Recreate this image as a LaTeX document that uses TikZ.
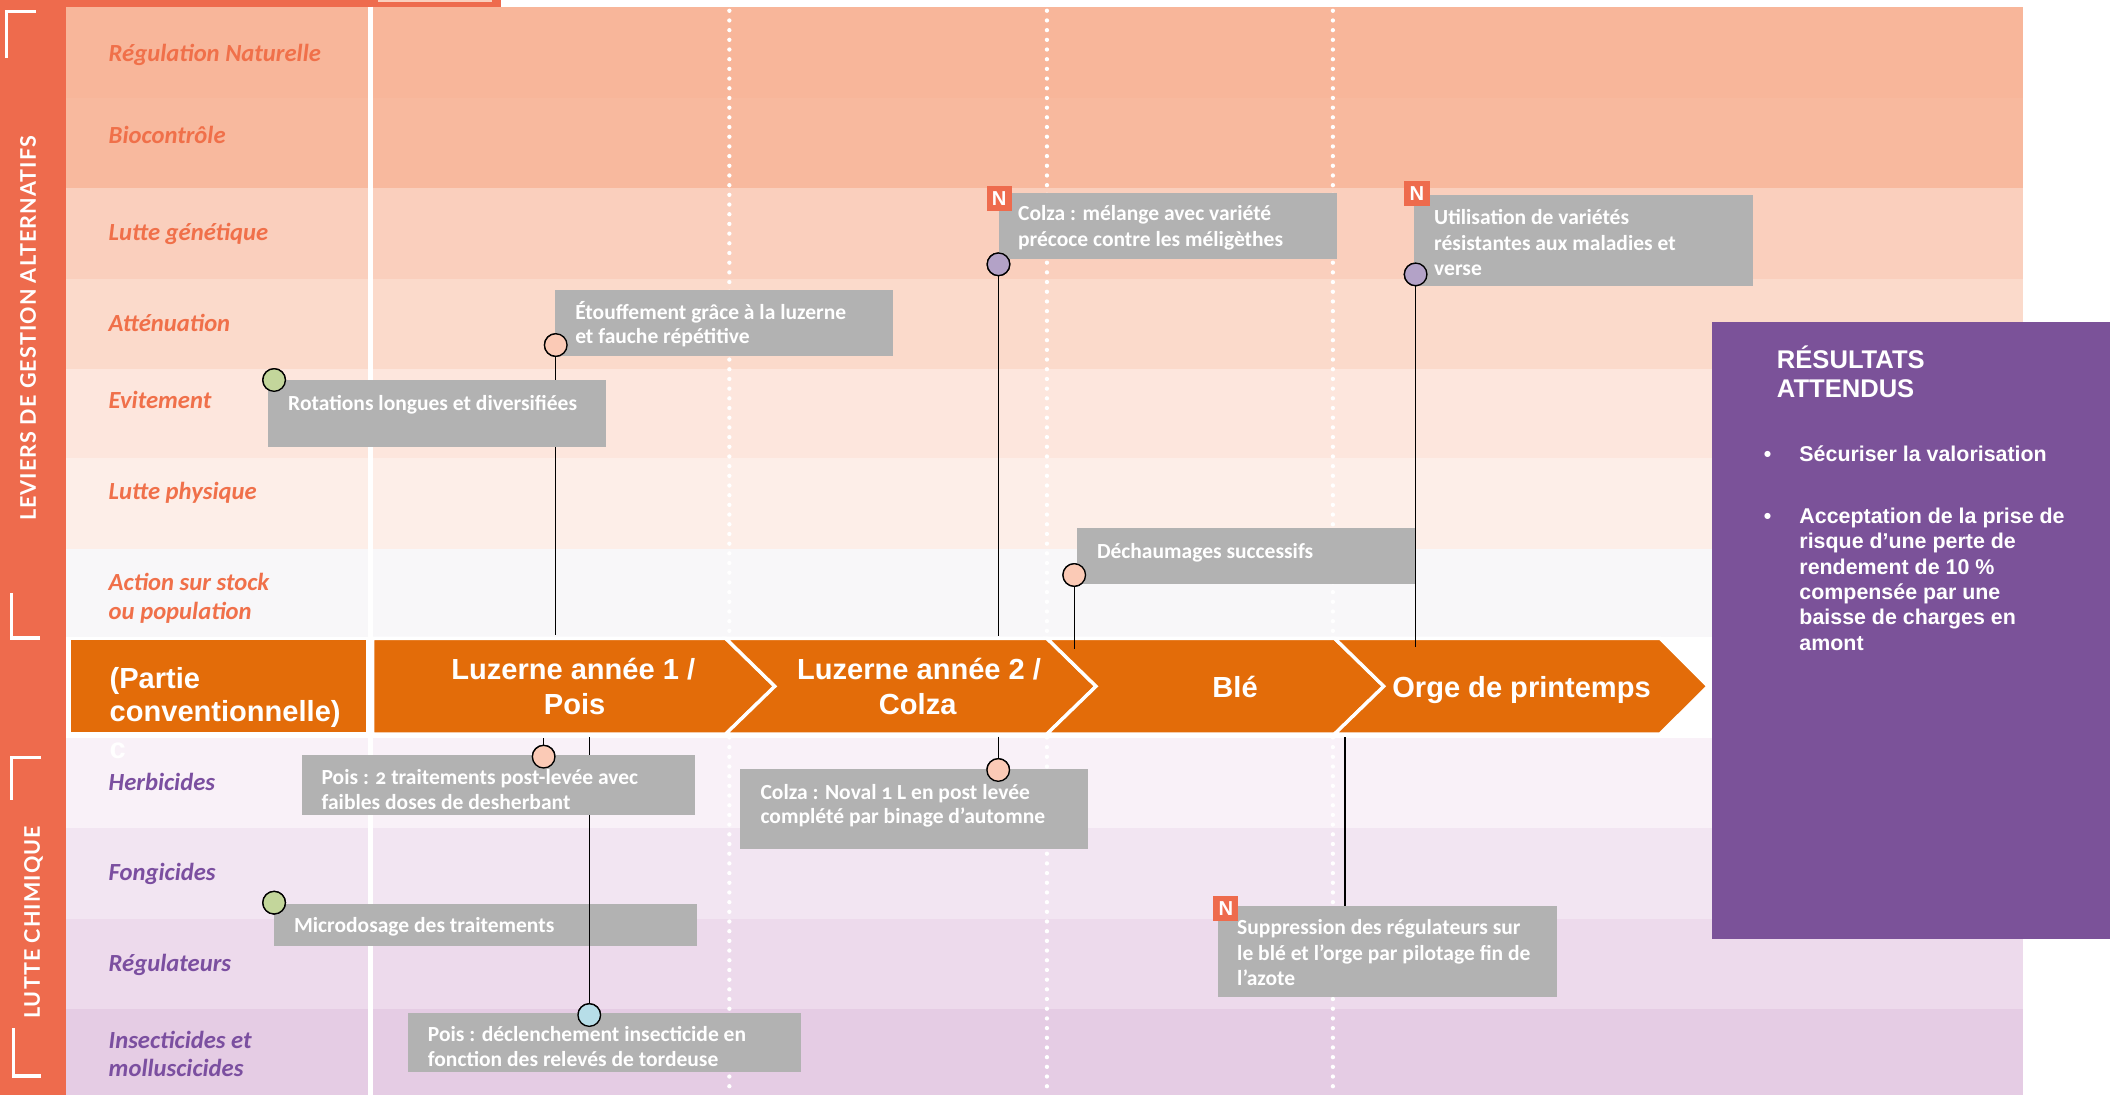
\documentclass[tikz,border=0pt]{standalone}
\usepackage{fontspec}
\usepackage{graphicx}
\setmainfont{Carlito}
\newfontfamily\callf[Numbers=OldStyle]{Carlito}
\newfontfamily\arialf{Liberation Sans}
\newfontfamily\sidef[LetterSpace=5]{Lato}
\definecolor{sideor}{HTML}{EE6B4D}
\definecolor{chev}{HTML}{E36C09}
\definecolor{laborange}{HTML}{F0704A}
\definecolor{labpurple}{HTML}{7B4FA0}
\definecolor{boxgrey}{HTML}{B2B2B2}
\definecolor{purplebox}{HTML}{7B5299}
\definecolor{dgreen}{HTML}{C3D69B}
\definecolor{dsalmon}{HTML}{FBCAB6}
\definecolor{dpurple}{HTML}{B3A2C7}
\definecolor{dblue}{HTML}{B7DEE8}
\definecolor{rA}{HTML}{F8B69A}
\definecolor{rB}{HTML}{F8B99E}
\definecolor{rC}{HTML}{FACFBD}
\definecolor{rD}{HTML}{FBDACB}
\definecolor{rE}{HTML}{FDE6DD}
\definecolor{rF}{HTML}{FDEEE8}
\definecolor{rG}{HTML}{F8F7F9}
\definecolor{rH}{HTML}{F9F1F8}
\definecolor{rI}{HTML}{F2E5F2}
\definecolor{rJ}{HTML}{EDDAEC}
\definecolor{rK}{HTML}{E5CCE4}
\begin{document}
\begin{tikzpicture}[x=1pt,y=-1pt,
  rowlab/.style={anchor=base west, inner sep=0pt, font=\fontsize{18.3}{22}\selectfont\bfseries\itshape, text=laborange},
  rowlabp/.style={rowlab, text=labpurple},
  ctext/.style={anchor=base west, inner sep=0pt, font=\callf\bfseries\fontsize{16}{19}\selectfont, text=white},
  cbox/.style={fill=boxgrey, draw=none, anchor=north west, inner sep=0pt},
  pin/.style={circle, draw=black, line width=1pt, minimum size=16.8pt, inner sep=0pt},
  nbadge/.style={fill=sideor, minimum width=18.6pt, minimum height=18.4pt, inner sep=0pt, text=white, font=\arialf\bfseries\fontsize{15}{15}\selectfont},
  chevron/.style={fill=chev, draw=white, line width=2.5pt, line join=miter},
  chtext/.style={text=white, font=\arialf\bfseries\fontsize{21.6}{25}\selectfont, inner sep=0pt, anchor=base},
  conn/.style={draw=black, line width=0.8pt},
  dotsep/.style={draw=white, line width=3.2pt, line cap=round, dash pattern=on 0pt off 7.2pt},
  restext/.style={anchor=base west, inner sep=0pt, text=white, font=\arialf\bfseries\fontsize{15.9}{19}\selectfont},
  sidetext/.style={rotate=90, inner sep=0pt, text=white, font=\sidef\bfseries\fontsize{16}{16}\selectfont},
  bracket/.style={draw=white, line width=2.3pt},
]
\useasboundingbox (0,0) rectangle (1568,814);
\fill[white] (0,0) rectangle (1568,814);
% bands
\fill[rA] (49,5) rectangle (1503,72.6);
\fill[rB] (49,72.6) rectangle (1503,139.5);
\fill[rC] (49,139.5) rectangle (1503,207);
\fill[rD] (49,207) rectangle (1503,274);
\fill[rE] (49,274) rectangle (1503,340);
\fill[rF] (49,340) rectangle (1503,407.7);
\fill[rG] (49,407.7) rectangle (1503,473);
\fill[rH] (49,548.5) rectangle (1503,615);
\fill[rI] (49,615) rectangle (1503,683);
\fill[rJ] (49,683) rectangle (1503,750);
\fill[rK] (49,750) rectangle (1503,814);
% top strip
\fill[sideor] (0,0) rectangle (372.3,5);
\fill[rC] (281,0) rectangle (365.6,1.3);
% separators
\draw[white, line width=3.6pt] (275.2,5) -- (275.2,814);
\draw[dotsep] (542,8) -- (542,812);
\draw[dotsep] (778,8) -- (778,812);
\draw[dotsep] (990.5,8) -- (990.5,812);
% arrow row
\fill[white] (49,473) rectangle (1503,548.5);
\draw[chevron] (51.5,474.4) rectangle (273,545.4);
\draw[chevron] (277,474.4) -- (539.3,474.4) -- (575.8,510) -- (539.3,545.4) -- (277,545.4) -- cycle;
\draw[chevron] (539.3,474.4) -- (778,474.4) -- (814.5,510) -- (778,545.4) -- (539.3,545.4) -- (575.8,510) -- cycle;
\draw[chevron] (778,474.4) -- (991.8,474.4) -- (1028.3,510) -- (991.8,545.4) -- (778,545.4) -- (814.5,510) -- cycle;
\draw[chevron] (991.8,474.4) -- (1233.6,474.4) -- (1269.3,510) -- (1233.6,545.4) -- (991.8,545.4) -- (1028.3,510) -- cycle;
\node[chtext, anchor=base west] (cv1a) at (81.3,511.5) {(Partie};
\node[chtext, anchor=base west] (cv1b) at (81.3,536.3) {conventionnelle)};
\node[chtext, anchor=base west] (cv1c) at (81.3,563.5) {c};
\node[chtext] (cv2a) at (426,505.3) {Luzerne année 1 /};
\node[chtext] (cv2b) at (427,530.8) {Pois};
\node[chtext] (cv3a) at (683,504.8) {Luzerne année 2 /};
\node[chtext] (cv3b) at (682,530.8) {Colza};
\node[chtext] (cv4) at (917.8,518.2) {Blé};
\node[chtext] (cv5) at (1130.7,518) {Orge de printemps};
% anchor points on the arrow row
\coordinate (aEto) at (413,472);
\coordinate (aColM) at (742,472.6);
\coordinate (aUti) at (1052,481);
\coordinate (aDec) at (798.3,482.5);
\coordinate (aPoisH) at (404,548.5);
\coordinate (aPoisI) at (437.9,548);
\coordinate (aNoval) at (741.8,547.4);
\coordinate (aSupp) at (999.5,548);
% box below the insecticide connector
\node[cbox, minimum width=313.8pt, minimum height=31.4pt] (bMicro) at (203.7,671.3) {};
% pins
\node[pin, fill=dgreen] (dRot) at (203.7,282.4) {};
\node[pin, fill=dsalmon] (dEto) at (413,256.4) {};
\node[pin, fill=dpurple] (dColM) at (742,196.4) {};
\node[pin, fill=dpurple] (dUti) at (1052,203.9) {};
\node[pin, fill=dsalmon] (dDec) at (798.3,427.3) {};
\node[pin, fill=dsalmon] (dPoisH) at (404,562.3) {};
\node[pin, fill=dsalmon] (dNoval) at (741.8,572.2) {};
\node[pin, fill=dgreen] (dMicro) at (203.7,670.8) {};
\node[pin, fill=dblue] (dPoisI) at (437.9,754.3) {};
% connectors
\draw[conn] (dEto) -- (aEto);
\draw[conn] (dColM) -- (aColM);
\draw[conn] (dUti) -- (aUti);
\draw[conn] (dDec) -- (aDec);
\draw[conn] (aPoisH) -- (dPoisH);
\draw[conn] (aPoisI) -- (dPoisI);
\draw[conn] (aNoval) -- (dNoval);
% other boxes
\node[cbox, minimum width=251pt, minimum height=49.6pt] (bRot) at (199,282.4) {};
\node[cbox, minimum width=250.8pt, minimum height=49pt] (bEto) at (412.4,215) {};
\node[cbox, minimum width=251pt, minimum height=49pt] (bColM) at (742,143) {};
\node[cbox, minimum width=251.8pt, minimum height=67.4pt] (bUti) at (1050.6,145) {};
\node[cbox, minimum width=251.2pt, minimum height=41.3pt] (bDec) at (800.3,392.4) {};
\node[cbox, minimum width=292.5pt, minimum height=44.6pt] (bPoisH) at (224,561) {};
\node[cbox, minimum width=258.5pt, minimum height=59.1pt] (bNoval) at (550,571.5) {};
\node[cbox, minimum width=252pt, minimum height=67.3pt] (bSupp) at (905,673.3) {};
\node[cbox, minimum width=291.8pt, minimum height=43.9pt] (bPoisI) at (303.2,752.5) {};
\draw[conn] (aSupp) -- (aSupp |- bSupp.north);
% pins drawn again on top of their boxes
\node[pin, fill=dgreen] (dRot2) at (dRot) {};
\node[pin, fill=dsalmon] (dEto2) at (dEto) {};
\node[pin, fill=dpurple] (dColM2) at (dColM) {};
\node[pin, fill=dpurple] (dUti2) at (dUti) {};
\node[pin, fill=dsalmon] (dDec2) at (dDec) {};
\node[pin, fill=dsalmon] (dPoisH2) at (dPoisH) {};
\node[pin, fill=dsalmon] (dNoval2) at (dNoval) {};
\node[pin, fill=dgreen] (dMicro2) at (dMicro) {};
\node[pin, fill=dblue] (dPoisI2) at (dPoisI) {};
% N badges
\node[nbadge] (nColM) at (742.5,147.3) {N};
\node[nbadge] (nUti) at (1053,143.7) {N};
\node[nbadge] (nSupp) at (911,675.2) {N};
% callout texts
\node[ctext] (r1) at (214,304.7) {Rotations longues et diversifiées};
\node[ctext] (e1) at (427.3,237.3) {Étouffement grâce à la luzerne};
\node[ctext] (e2) at (427.3,255.6) {et fauche répétitive};
\node[ctext] (cm1) at (756.4,164) {Colza : mélange avec variété};
\node[ctext] (cm2) at (756.4,183.3) {précoce contre les méligèthes};
\node[ctext] (u1) at (1065.6,167.2) {Utilisation de variétés};
\node[ctext] (u2) at (1065.6,186.3) {résistantes aux maladies et};
\node[ctext] (u3) at (1065.6,204.8) {verse};
\node[ctext] (d1) at (815,414.9) {Déchaumages successifs};
\node[ctext] (ph1) at (238.8,583.3) {Pois : 2 traitements post-levée avec};
\node[ctext] (ph2) at (238.8,601.4) {faibles doses de desherbant};
\node[ctext] (nv1) at (565,593.8) {Colza : Noval 1 L en post levée};
\node[ctext] (nv2) at (565,612.3) {complété par binage d’automne};
\node[ctext] (m1) at (218.3,692.8) {Microdosage des traitements};
\node[ctext] (s1) at (919.2,694.8) {Suppression des régulateurs sur};
\node[ctext] (s2) at (919.2,713.9) {le blé et l’orge par pilotage fin de};
\node[ctext] (s3) at (919.2,732.7) {l’azote};
\node[ctext] (pi1) at (317.8,774) {Pois : déclenchement insecticide en};
\node[ctext] (pi2) at (317.8,792.7) {fonction des relevés de tordeuse};
% row labels
\node[rowlab] (lRN) at (80.6,45.8) {Régulation Naturelle};
\node[rowlab] (lBC) at (80.6,106.5) {Biocontrôle};
\node[rowlab] (lLG) at (80.6,178.8) {Lutte génétique};
\node[rowlab] (lAT) at (80.6,246) {Atténuation};
\node[rowlab] (lEV) at (80.6,303.4) {Evitement};
\node[rowlab] (lLP) at (80.6,371) {Lutte physique};
\node[rowlab] (lAS1) at (80.6,439) {Action sur stock};
\node[rowlab] (lAS2) at (80.6,460.2) {ou population};
\node[rowlabp] (lHE) at (80.6,587.6) {Herbicides};
\node[rowlabp] (lFO) at (80.6,654) {Fongicides};
\node[rowlabp] (lRE) at (80.6,722) {Régulateurs};
\node[rowlabp] (lIN1) at (80.6,779) {Insecticides et};
\node[rowlabp] (lIN2) at (80.6,800) {molluscicides};
% results box
\fill[purplebox] (1272,239.3) rectangle (1568,697.5);
\node[restext, font=\arialf\bfseries\fontsize{19}{21}\selectfont] (rt1) at (1320.3,274.2) {RÉSULTATS};
\node[restext, font=\arialf\bfseries\fontsize{19}{21}\selectfont] (rt2) at (1320.3,295.3) {ATTENDUS};
\node[restext] (bu1) at (1310.5,343) {•};
\node[restext] (rb1) at (1337,343) {Sécuriser la valorisation};
\node[restext] (bu2) at (1310.5,388.9) {•};
\node[restext] (rb2a) at (1337,388.9) {Acceptation de la prise de};
\node[restext] (rb2b) at (1337,407.7) {risque d’une perte de};
\node[restext] (rb2c) at (1337,426.6) {rendement de 10 \%};
\node[restext] (rb2d) at (1337,445.5) {compensée par une};
\node[restext] (rb2e) at (1337,464.4) {baisse de charges en};
\node[restext] (rb2f) at (1337,483.4) {amont};
% sidebar
\fill[sideor] (0,5) rectangle (49,814);
\draw[bracket] (26.5,8.7) -- (5,8.7) -- (5,43.3);
\draw[bracket] (8.3,440.7) -- (8.3,474.1) -- (29.8,474.1);
\draw[bracket] (30.5,562.8) -- (8.3,562.8) -- (8.3,594.5);
\draw[bracket] (10,764) -- (10,799.6) -- (30.5,799.6);
\node[sidetext] (sLev) at (20.8,244) {LEVIERS DE GESTION ALTERNATIFS};
\node[sidetext] (sLut) at (24.9,685.5) {LUTTE CHIMIQUE};
\end{tikzpicture}
\end{document}
